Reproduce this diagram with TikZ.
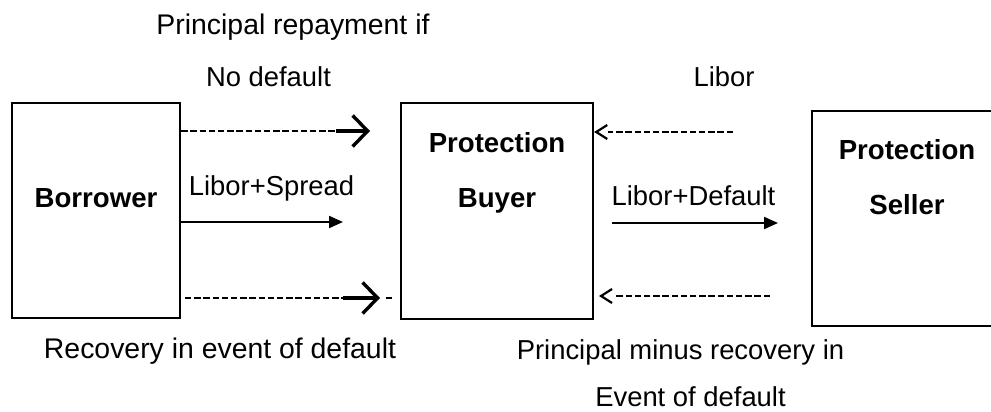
\documentclass[tikz,border=0pt]{standalone}
\usepackage{fontspec}
\setmainfont{Liberation Sans}
\usetikzlibrary{arrows.meta,calc}
\begin{document}
\begin{tikzpicture}[x=1pt,y=-1pt,
  party/.style={draw,line width=2.4pt,inner sep=0pt,minimum width=#1},
  lbl/.style={inner sep=0pt,anchor=base,font=\fontsize{#1}{33}\selectfont},
  lbl/.default=27.4,
  blbl/.style={inner sep=0pt,anchor=base,font=\fontsize{27.6}{33}\selectfont\bfseries},
  dashrule/.style={line width=2.7pt,dash pattern=on 6.4pt off 2.8pt},
  glypharrow/.style={line width=3.2pt,-{Straight Barb[length=15pt,width=31pt,line width=3.4pt]}},
  lesstip/.style={line width=2.2pt,-{Straight Barb[length=11pt,width=14pt,line width=2.2pt]}},
  flow/.style={line width=2.1pt,-{Triangle[length=14pt,width=12pt]}}
]
\useasboundingbox (0,0) rectangle (991,412);

% the three parties
\node[party=168pt,minimum height=215pt] (borrower) at (96,210.5) {};
\node[party=192pt,minimum height=216pt] (buyer) at (497,211) {};
\node[party=196pt,minimum height=215pt] (seller) at (910,218.5) {};

\node[blbl] (borrowername) at (96,207) {Borrower};
\node[blbl] (buyername1) at (497,152) {Protection};
\node[blbl] (buyername2) at (497,207) {Buyer};
\node[blbl] (sellername1) at (907,159) {Protection};
\node[blbl] (sellername2) at (907,214) {Seller};

% free ends of the flows
\coordinate (tlend) at (336,131);
\coordinate (tltip) at (370,131);
\coordinate (spreadtip) at (343,222);
\coordinate (blstart) at (185,298);
\coordinate (blend) at (343,298);
\coordinate (bltip) at (380,298);
\coordinate (trstart) at (733,132);
\coordinate (defstart) at (612,223);
\coordinate (deftip) at (778,223);
\coordinate (brstart) at (770,296);

% borrower -> buyer: principal repayment if no default
\draw[dashrule] (borrower.east |- tlend) -- (tlend);
\draw[glypharrow] (tlend) -- (tltip);

% borrower -> buyer: Libor + spread
\draw[flow] (borrower.east |- spreadtip) -- (spreadtip);

% borrower -> buyer: recovery in event of default
\draw[dashrule] (blstart) -- (blend);
\draw[glypharrow] (blend) -- (bltip);
\draw[line width=2.7pt] (385.5,298) -- (392,298);

% seller -> buyer: Libor
\draw[dashrule] (trstart) -- ($(buyer.east |- trstart)+(14,0)$);
\draw[lesstip] ($(buyer.east |- trstart)+(1,0)$) -- (buyer.east |- trstart);

% buyer -> seller: Libor + default
\draw[flow] (defstart) -- (deftip);

% seller -> buyer: principal minus recovery
\draw[dashrule] (brstart) -- (615,296);
\draw[lesstip] (600,296) -- (599,296);

% labels
\node[lbl=28.4] (l1) at (293,35) {Principal repayment if};
\node[lbl] (l2) at (268.5,86) {No default};
\node[lbl] (l3) at (724,87) {Libor};
\node[lbl] (l4) at (271.5,195) {Libor+Spread};
\node[lbl] (l5) at (693.5,205) {Libor+Default};
\node[lbl=28.4] (l6) at (220,358) {Recovery in event of default};
\node[lbl] (l7) at (680.5,359) {Principal minus recovery in};
\node[lbl] (l8) at (690.5,406) {Event of default};
\end{tikzpicture}
\end{document}
